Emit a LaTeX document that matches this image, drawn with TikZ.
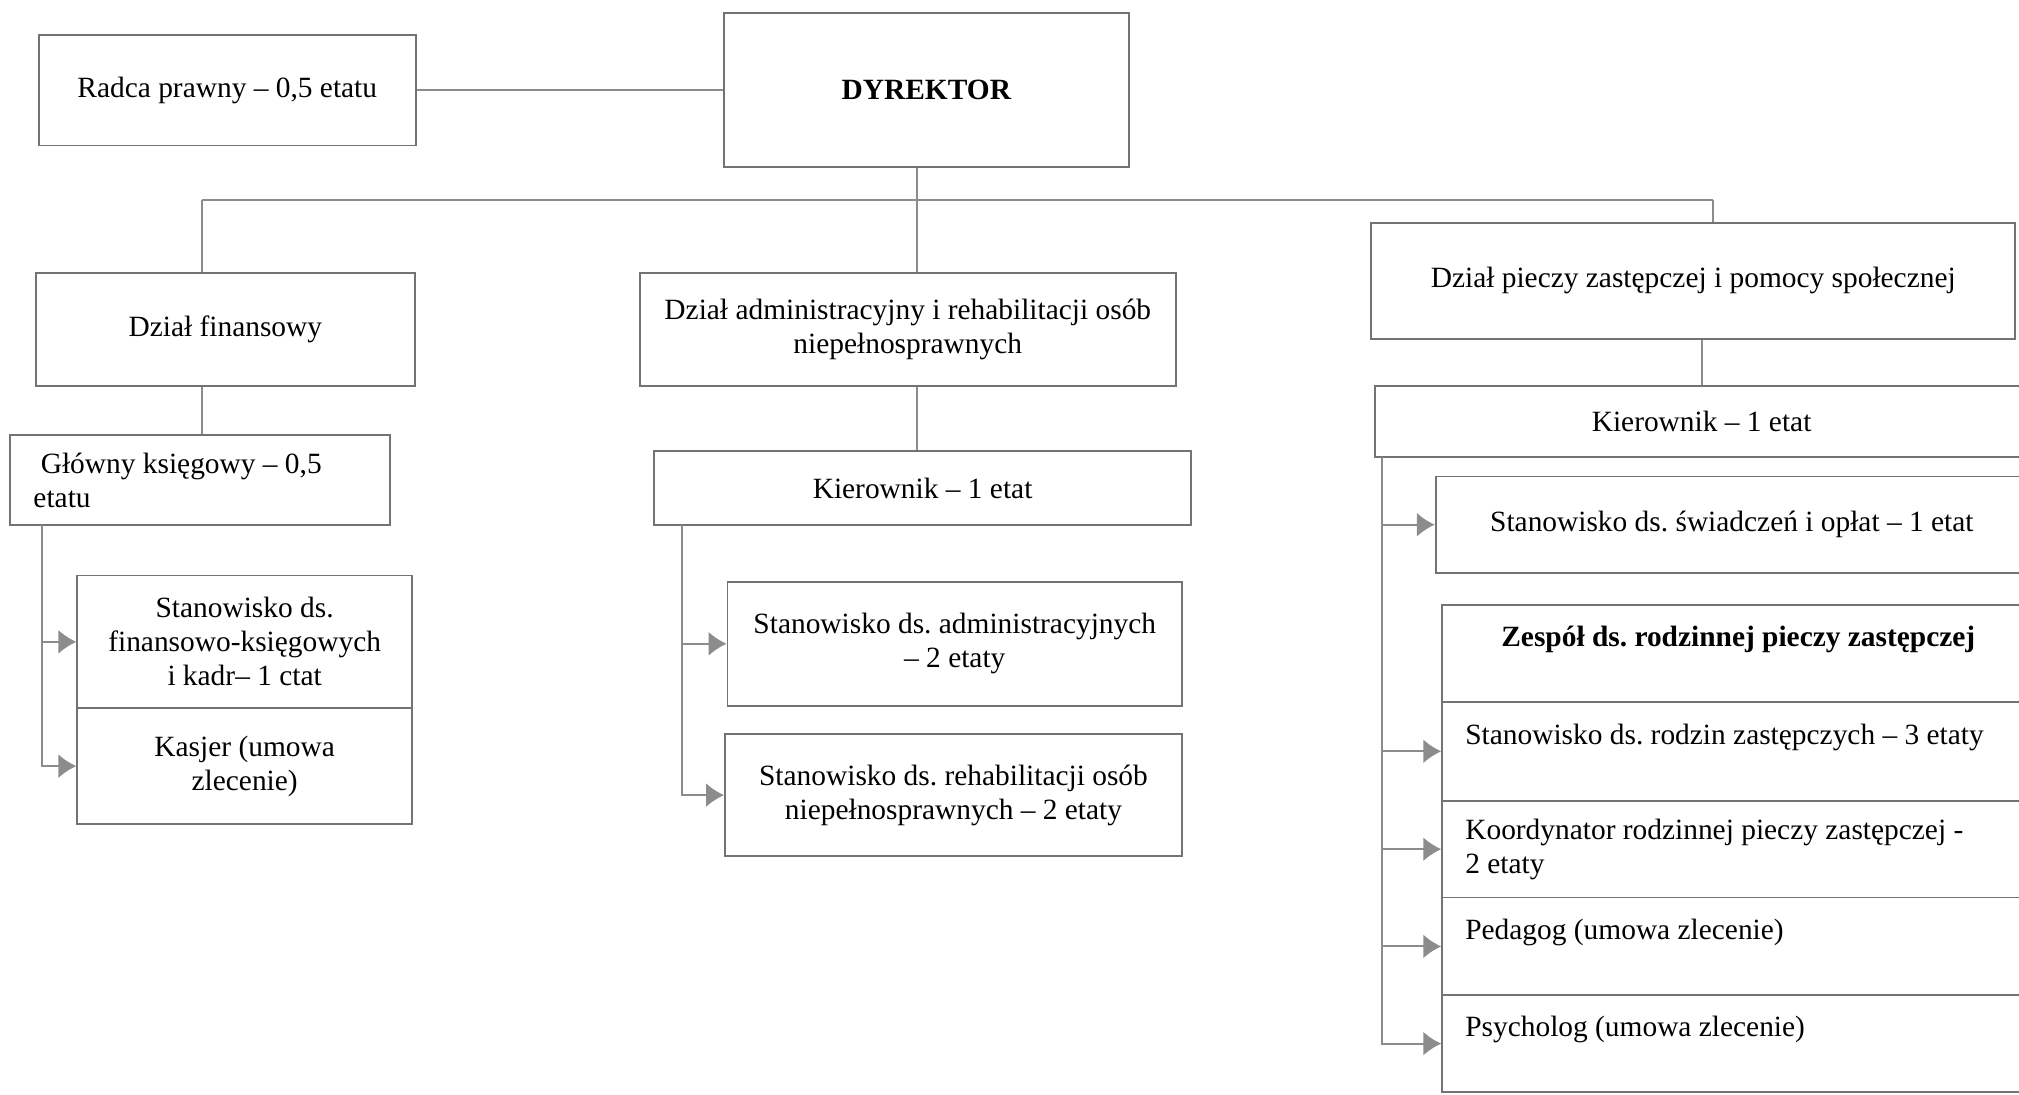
\documentclass[tikz,border=0pt]{standalone}
\usepackage{fontspec}
\setmainfont{Liberation Serif}
\usetikzlibrary{arrows.meta}

\tikzset{
  box/.style={draw=black!55, line width=0.9pt, inner sep=0pt, align=center,
    font=\fontsize{14.7}{17}\selectfont},
  bx/.style 2 args={box, minimum width=#1*0.6438pt, minimum height=#2*0.6438pt},
  lbx/.style 2 args={bx={#1}{#2}, align=flush left, text width=(#1-36)*0.6438pt},
  conn/.style={draw=black!45, line width=1pt},
  arr/.style={conn, -{Latex[length=9pt,width=12pt]}},
}

\begin{document}
\frenchspacing
\begin{tikzpicture}[x=0.6438pt, y=-0.6438pt]
% page frame, units are pixels of the scanned chart
  \useasboundingbox (0,0) rectangle (1568,850);
% top level
  \node[bx={293}{86}] (radca) at (176.5,70) {Radca prawny -- 0,5 etatu};
  \node[bx={315}{120}] (dyr) at (719.5,70) {\textbf{DYREKTOR}};
% departments
  \node[bx={294}{88}] (fin) at (175,256) {Dział finansowy};
  \node[bx={416}{88}] (adm) at (705,256) {Dział administracyjny i rehabilitacji osób\\niepełnosprawnych};
  \node[bx={500}{90}] (piecz) at (1315,218) {Dział pieczy zastępczej i pomocy społecznej};
% finance
  \node[lbx={295}{70}] (gk) at (155.5,373) {~Główny księgowy -- 0,5\\etatu};
  \node[bx={260}{103}] (stfin) at (190,498.5) {Stanowisko ds.\\finansowo-księgowych\\i kadr-- 1 ctat};
  \node[bx={260}{90}] (kasjer) at (190,595) {Kasjer (umowa\\zlecenie)};
% administration
  \node[bx={417}{58}] (kierA) at (716.5,379) {Kierownik -- 1 etat};
  \node[bx={353}{96}] (stadm) at (741.5,500) {Stanowisko ds. administracyjnych\\-- 2 etaty};
  \node[bx={355}{95}] (streh) at (740.5,617.5) {Stanowisko ds. rehabilitacji osób\\niepełnosprawnych -- 2 etaty};
% foster care and social help
  \node[bx={507}{55}] (kierP) at (1321.5,327.5) {Kierownik -- 1 etat};
  \node[bx={460}{75}] (swiad) at (1345,407.5) {Stanowisko ds. świadczeń i opłat -- 1 etat};
  \node[bx={460}{75}] (zesp) at (1350,507.5) {\textbf{Zespół ds. rodzinnej pieczy zastępczej}\\~};
  \node[lbx={460}{77}] (rodz) at (1350,583.5) {Stanowisko ds. rodzin zastępczych -- 3 etaty\\~};
  \node[lbx={460}{75}] (koord) at (1350,659.5) {Koordynator rodzinnej pieczy zastępczej -\\2 etaty};
  \node[lbx={460}{76}] (ped) at (1350,735) {Pedagog (umowa zlecenie)\\~};
  \node[lbx={460}{75}] (psych) at (1350,810.5) {Psycholog (umowa zlecenie)\\~};
% connectors
  \coordinate (bus) at (712,155);
  \coordinate (busL) at (157,155);
  \coordinate (busR) at (1330,155);
  \draw[conn] (radca) -- (dyr);
  \draw[conn] (dyr.south -| bus) -- (bus);
  \draw[conn] (busL) -- (busR);
  \draw[conn] (busL) -- (busL |- fin.north);
  \draw[conn] (bus) -- (bus |- adm.north);
  \draw[conn] (busR) -- (busR |- piecz.north);
  \draw[conn] (busL |- fin.south) -- (busL |- gk.north);
  \draw[conn] (bus |- adm.south) -- (bus |- kierA.north);
  \draw[conn] (kierP.north |- piecz.south) -- (kierP.north);
  \coordinate (tF) at (33,408);
  \coordinate (tA) at (530,408);
  \coordinate (tP) at (1073,355);
  \draw[arr] (tF) |- (stfin);
  \draw[arr] (tF) |- (kasjer);
  \draw[arr] (tA) |- (stadm);
  \draw[arr] (tA) |- (streh);
  \foreach \n in {swiad,rodz,koord,ped,psych}
    \draw[arr] (tP) |- (\n);
\end{tikzpicture}
\end{document}
